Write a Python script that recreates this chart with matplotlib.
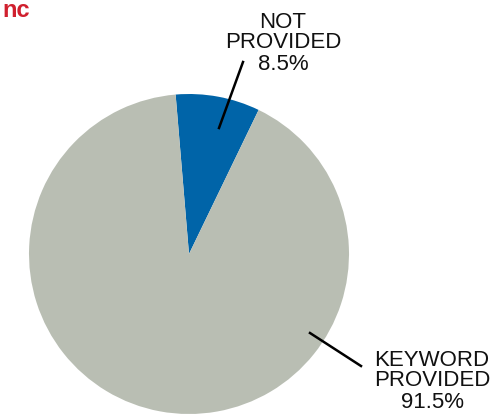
import matplotlib
matplotlib.use("Agg")
import matplotlib.pyplot as plt
from matplotlib.lines import Line2D

categories = ["NOT\nPROVIDED", "KEYWORD\nPROVIDED"]
values = [8.5, 91.5]
colors = ["#0064A8", "#B9BEB3"]

W, H = 497, 416
fig = plt.figure(figsize=(W / 100, H / 100), dpi=100)

def fx(px):
    return px / W

def fy(py):
    return 1 - py / H

# pie axes: center ~ (189, 254), radius ~160 px
cx, cy, r = 189, 254, 160
ax = fig.add_axes([fx(cx - r), fy(cy + r), 2 * r / W, 2 * r / H])
ax.pie(values, colors=colors, startangle=64.2, counterclock=True,
       radius=1, wedgeprops=dict(linewidth=0))
ax.set_xlim(-1, 1)
ax.set_ylim(-1, 1)
ax.set_aspect("equal")
ax.axis("off")

font = ["Liberation Sans", "DejaVu Sans"]
labels = [f"{c}\n{v}%" for c, v in zip(categories, values)]

fig.text(fx(283), fy(43), labels[0], ha="center", va="center",
         fontsize=16, family=font, linespacing=1.0, color="#111111")
fig.text(fx(432), fy(381), labels[1], ha="center", va="center",
         fontsize=16, family=font, linespacing=1.0, color="#111111")

# leader lines
fig.add_artist(Line2D([fx(243), fx(219)], [fy(62), fy(128)],
                      transform=fig.transFigure, color="black", lw=1.8))
fig.add_artist(Line2D([fx(310), fx(361)], [fy(333), fy(366)],
                      transform=fig.transFigure, color="black", lw=1.8))

# cropped title fragment
fig.text(fx(2), fy(17), "nc", ha="left", va="baseline", fontsize=17,
         fontweight="bold", family=font, color="#D0202E")

fig.savefig("out.png", dpi=100)
